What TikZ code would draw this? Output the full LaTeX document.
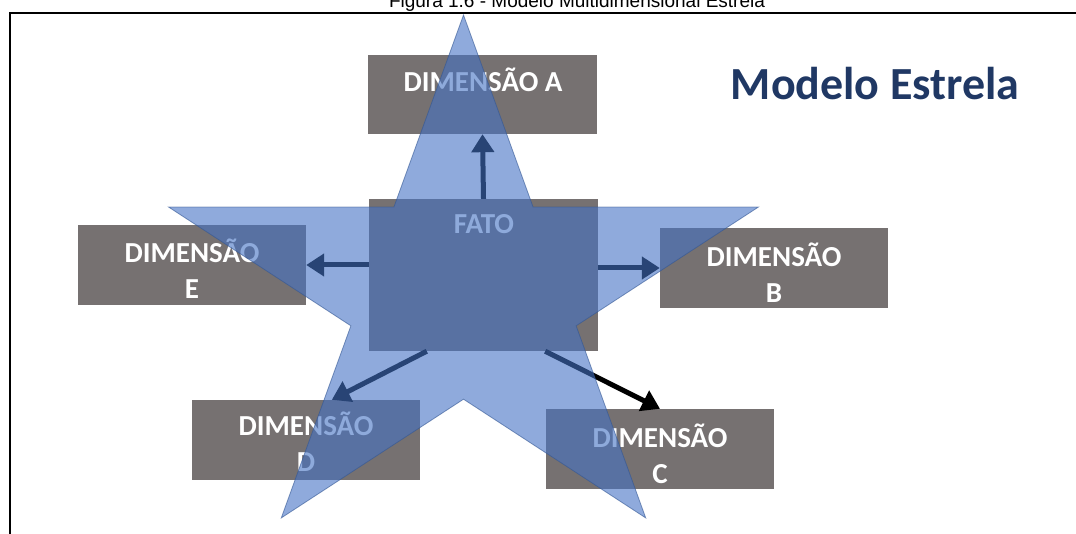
\documentclass[tikz,border=0pt]{standalone}
\usepackage{fontspec}
\usetikzlibrary{arrows.meta}
\newfontfamily\carlito{Carlito}
\newfontfamily\captionfont{Liberation Sans}

\definecolor{boxgray}{HTML}{767171}
\definecolor{starblue}{HTML}{4472C4}
\definecolor{titlenavy}{HTML}{203864}

\tikzset{
  dimbox/.style={draw=none, fill=boxgray, inner sep=0pt},
  boxlabel/.style={text=white, inner sep=0pt, align=center,
    font=\carlito\bfseries\fontsize{29}{36}\selectfont},
  conn/.style={draw=black, line width=5pt,
    -{Triangle[length=18pt,width=22pt]}},
  starshape/.style={fill=starblue, fill opacity=0.6,
    draw=starblue!75!black, draw opacity=0.6, line width=0.8pt}
}

\begin{document}
\begin{tikzpicture}[x=1pt,y=-1pt]
  \useasboundingbox (0,0) rectangle (1076,534);

  % caption and frame
  \node (caption) [anchor=base, inner sep=0pt,
    font=\captionfont\fontsize{19}{22}\selectfont]
    at (577,8) {Figura 1.6 - Modelo Multidimensional Estrela};
  \draw[line width=2pt] (1090,13) -- (10,13) -- (10,545);

  % title
  \node (title) [anchor=base, inner sep=0pt, text=titlenavy,
    font=\carlito\bfseries\fontsize{46}{50}\selectfont]
    at (875,100) {Modelo Estrela};

  % dimension tables and the fact table
  \node (dimA) [dimbox, minimum width=229pt, minimum height=79pt] at (482.5,94.5) {};
  \node (fato) [dimbox, minimum width=229pt, minimum height=152pt] at (483.5,275) {};
  \node (dimE) [dimbox, minimum width=228pt, minimum height=80pt] at (192,265) {};
  \node (dimB) [dimbox, minimum width=228pt, minimum height=80pt] at (774,268) {};
  \node (dimD) [dimbox, minimum width=228pt, minimum height=80pt] at (306,440) {};
  \node (dimC) [dimbox, minimum width=228pt, minimum height=80pt] at (660,449) {};

  % their texts
  \node (dimAlbl) [boxlabel] at (483,80) {DIMENSÃO A};
  \node (fatolbl) [boxlabel] at (484,224) {FATO};
  \node (dimElbl) [boxlabel] at (192,269) {DIMENSÃO\\E};
  \node (dimBlbl) [boxlabel] at (774,273) {DIMENSÃO\\B};
  \node (dimDlbl) [boxlabel] at (306,442) {DIMENSÃO\\D};
  \node (dimClbl) [boxlabel] at (660,454) {DIMENSÃO\\C};

  % links from the fact table
  \draw[conn] (fato.north) -- (dimA.south);
  \draw[conn] (dimE.east -| fato.west) -- (dimE.east);
  \draw[conn] (dimB.west -| fato.east) -- (dimB.west);
  \draw[conn] ([xshift=58pt]fato.south west) -- ([xshift=140pt]dimD.north west);
  \draw[conn] ([xshift=-53pt]fato.south east) -- (dimC.north);

  % translucent star over the whole model
  \begin{scope}[shift={(463.5,293)}, xscale=310, yscale=-278]
    \path[starshape] (90:1) -- (126:0.382) -- (162:1) -- (198:0.382)
      -- (234:1) -- (270:0.382) -- (306:1) -- (342:0.382)
      -- (18:1) -- (54:0.382) -- cycle;
  \end{scope}
\end{tikzpicture}
\end{document}
